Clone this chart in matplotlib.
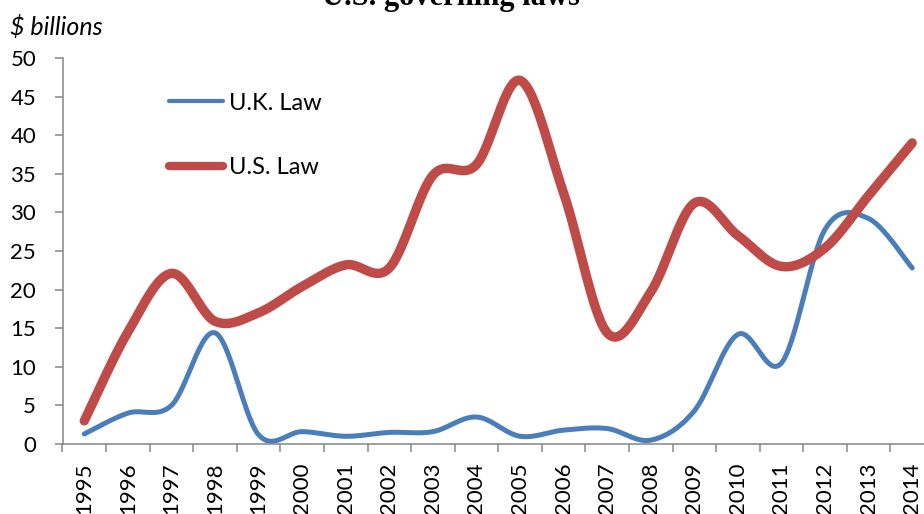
import numpy as np
import matplotlib
matplotlib.use("Agg")
import matplotlib.pyplot as plt
from matplotlib.lines import Line2D

years = [str(y) for y in range(1995, 2015)]
uk_law = [1.3, 4.0, 5.0, 14.4, 1.2, 1.6, 1.0, 1.5, 1.6, 3.5,
          1.0, 1.8, 2.0, 0.5, 4.3, 14.2, 10.5, 27.8, 29.2, 22.8]
us_law = [3.0, 14.5, 22.1, 15.9, 17.0, 20.4, 23.2, 22.8, 34.8, 36.2,
          47.1, 32.5, 14.4, 19.7, 31.2, 27.0, 23.0, 25.4, 32.2, 39.0]
series_names = ["U.K. Law", "U.S. Law"]
title_text = "U.S. governing laws"
unit_text = "$ billions"

BLUE = "#4A7EBB"
RED = "#BE4B48"
AXC = "#868686"
FONT = "Lato"


def smooth(xs, ys, n=30):
    xs = np.asarray(xs, float)
    ys = np.asarray(ys, float)
    P = np.column_stack([xs, ys])
    out = []
    m = len(P)
    for i in range(m - 1):
        p0 = P[i - 1] if i > 0 else P[i]
        p1 = P[i]
        p2 = P[i + 1]
        p3 = P[i + 2] if i + 2 < m else P[i + 1]
        c1 = p1 + (p2 - p0) / 6.0
        c2 = p2 - (p3 - p1) / 6.0
        t = np.linspace(0, 1, n, endpoint=(i == m - 2))[:, None]
        seg = ((1 - t) ** 3) * p1 + 3 * ((1 - t) ** 2) * t * c1 + 3 * (1 - t) * t ** 2 * c2 + t ** 3 * p2
        out.append(seg)
    out = np.vstack(out)
    return out[:, 0], out[:, 1]


fig = plt.figure(figsize=(9.24, 5.14), dpi=100)
ax = fig.add_axes([62.5 / 924, 1 - 444 / 514, (934 - 62.5) / 924, (444 - 58) / 514])

x = np.arange(len(years))
sx, sy = smooth(x, uk_law)
ax.plot(sx, sy, color=BLUE, lw=3.6, solid_capstyle="round", clip_on=False)
sx, sy = smooth(x, us_law)
ax.plot(sx, sy, color=RED, lw=6.8, solid_capstyle="round", clip_on=False)

ax.set_xlim(-0.5, len(years) - 0.5)
ax.set_ylim(0, 50)
ax.set_yticks(range(0, 51, 5))
ax.set_xticks(np.arange(-0.5, len(years), 1.0))
ax.set_xticklabels([])
ax.set_xticks(x, minor=True)
ax.set_xticklabels(years, minor=True, rotation=90, fontsize=16, family=FONT)
ax.tick_params(axis="x", which="major", length=6, width=1.1, color=AXC, direction="out")
ax.tick_params(axis="x", which="minor", length=0, pad=13)
ax.tick_params(axis="y", length=6, width=1.1, color=AXC, direction="out", pad=13,
               labelsize=16)
for lab in ax.get_yticklabels():
    lab.set_family(FONT)

for s in ["top", "right"]:
    ax.spines[s].set_visible(False)
for s in ["left", "bottom"]:
    ax.spines[s].set_color(AXC)
    ax.spines[s].set_linewidth(1.1)

handles = [Line2D([], [], color=BLUE, lw=3.0, solid_capstyle="round"),
           Line2D([], [], color=RED, lw=6.0, solid_capstyle="round")]
ax.legend(handles, series_names, loc="upper left", bbox_to_anchor=(0.098, 0.965),
          frameon=False, handlelength=2.3, handletextpad=0.25, labelspacing=1.85,
          prop={"family": FONT, "size": 17})

fig.text(10 / 924, 1 - 27 / 514, unit_text, fontsize=18, family=FONT, style="italic",
         va="center", ha="left")
fig.text(451 / 924, 1 - 5 / 514, title_text, fontsize=22, family="Liberation Serif",
         weight="bold", ha="center", va="baseline")

fig.savefig("out.png", dpi=100)
